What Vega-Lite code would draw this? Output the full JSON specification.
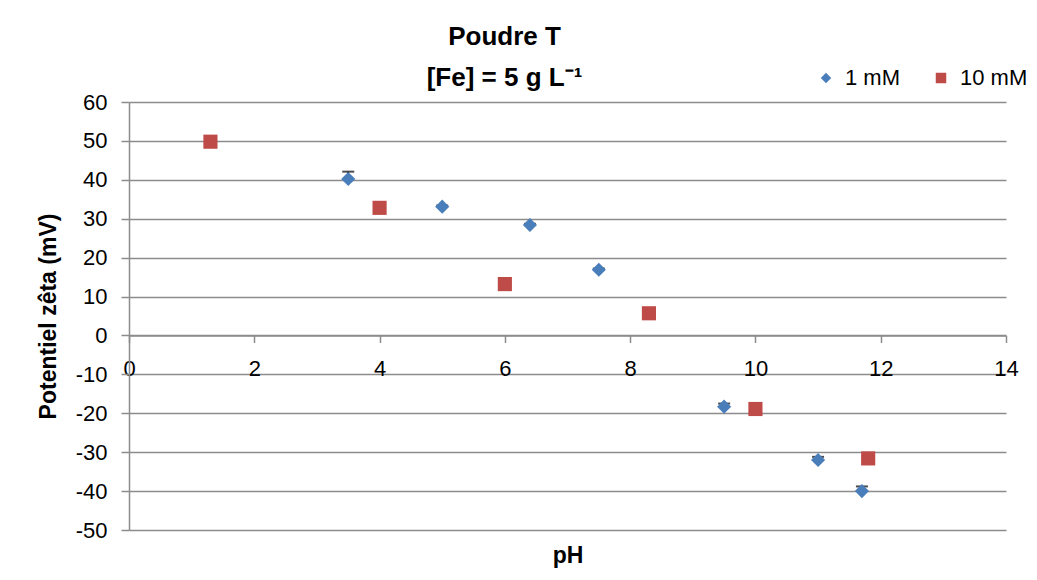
{
  "$schema": "https://vega.github.io/schema/vega-lite/v6.json",
  "width": 877,
  "height": 428,
  "autosize": {"type": "none"},
  "padding": {"left": 129, "top": 102, "right": 31, "bottom": 50},
  "background": "white",
  "config": {
    "font": "Liberation Sans, Arial, sans-serif",
    "view": {"stroke": null}
  },
  "title": {
    "text": ["Poudre T", "[Fe] = 5 g L⁻¹"],
    "anchor": "middle",
    "frame": "group",
    "dx": -63,
    "offset": -24,
    "fontSize": 26,
    "fontWeight": "bold",
    "lineHeight": 41,
    "color": "black"
  },
  "data": {
    "values": [
      {"pH": 3.5, "zeta": 40.2, "hi": 42.1, "serie": "1 mM"},
      {"pH": 5.0, "zeta": 33.1, "hi": 33.4, "serie": "1 mM"},
      {"pH": 6.4, "zeta": 28.4, "hi": 28.7, "serie": "1 mM"},
      {"pH": 7.5, "zeta": 16.9, "hi": 17.2, "serie": "1 mM"},
      {"pH": 9.5, "zeta": -18.3, "hi": -17.5, "serie": "1 mM"},
      {"pH": 11.0, "zeta": -32.0, "hi": -31.2, "serie": "1 mM"},
      {"pH": 11.7, "zeta": -40.0, "hi": -38.8, "serie": "1 mM"},
      {"pH": 1.3, "zeta": 49.8, "serie": "10 mM"},
      {"pH": 4.0, "zeta": 32.8, "serie": "10 mM"},
      {"pH": 6.0, "zeta": 13.2, "serie": "10 mM"},
      {"pH": 8.3, "zeta": 5.7, "serie": "10 mM"},
      {"pH": 10.0, "zeta": -18.9, "serie": "10 mM"},
      {"pH": 11.8, "zeta": -31.6, "serie": "10 mM"}
    ]
  },
  "encoding": {
    "x": {
      "field": "pH",
      "type": "quantitative",
      "scale": {"domain": [0, 14], "nice": false, "zero": false},
      "axis": {
        "title": "pH",
        "values": [0, 2, 4, 6, 8, 10, 12, 14],
        "offset": -194.5,
        "grid": false,
        "domainColor": "#8c8c8c",
        "domainWidth": 1.5,
        "tickColor": "#8c8c8c",
        "tickWidth": 1.5,
        "tickSize": 7,
        "labelFontSize": 22,
        "labelColor": "black",
        "labelPadding": 16,
        "labelFlush": false,
        "titleFontSize": 23,
        "titleFontWeight": "bold",
        "titleColor": "black",
        "titleY": 220,
        "titleBaseline": "middle"
      }
    },
    "y": {
      "field": "zeta",
      "type": "quantitative",
      "scale": {"domain": [-50, 60], "nice": false, "zero": false},
      "axis": {
        "title": "Potentiel zêta (mV)",
        "values": [-50, -40, -30, -20, -10, 0, 10, 20, 30, 40, 50, 60],
        "labelExpr": "'' + datum.value",
        "grid": true,
        "gridColor": "#8c8c8c",
        "gridWidth": 1.5,
        "domainColor": "#8c8c8c",
        "domainWidth": 1.5,
        "tickColor": "#8c8c8c",
        "tickWidth": 1.5,
        "tickSize": 8,
        "labelFontSize": 22,
        "labelColor": "black",
        "labelPadding": 14,
        "titleFontSize": 23,
        "titleFontWeight": "bold",
        "titleColor": "black",
        "titleX": -81,
        "titleBaseline": "middle"
      }
    }
  },
  "layer": [
    {
      "transform": [{"filter": "isValid(datum.hi)"}],
      "mark": {"type": "rule", "color": "black", "strokeWidth": 1.5},
      "encoding": {"y2": {"field": "hi"}}
    },
    {
      "transform": [{"filter": "isValid(datum.hi)"}],
      "mark": {"type": "tick", "color": "black", "orient": "horizontal", "size": 12, "thickness": 2},
      "encoding": {"y": {"field": "hi", "type": "quantitative"}}
    },
    {
      "mark": {"type": "point", "filled": true, "opacity": 1, "size": 200},
      "encoding": {
        "color": {
          "field": "serie",
          "type": "nominal",
          "scale": {"domain": ["1 mM", "10 mM"], "range": ["#4A7EBB", "#BE4B48"]},
          "legend": {
            "title": null,
            "orient": "none",
            "direction": "horizontal",
            "legendX": 686,
            "legendY": -35,
            "labelFontSize": 22,
            "labelColor": "black",
            "symbolSize": 110,
            "labelOffset": 8,
            "columnPadding": 30
          }
        },
        "shape": {
          "field": "serie",
          "type": "nominal",
          "scale": {"domain": ["1 mM", "10 mM"], "range": ["diamond", "square"]},
          "legend": {
            "title": null,
            "orient": "none",
            "direction": "horizontal",
            "legendX": 686,
            "legendY": -35,
            "labelFontSize": 22,
            "labelColor": "black",
            "symbolSize": 110,
            "labelOffset": 8,
            "columnPadding": 30
          }
        }
      }
    }
  ]
}
